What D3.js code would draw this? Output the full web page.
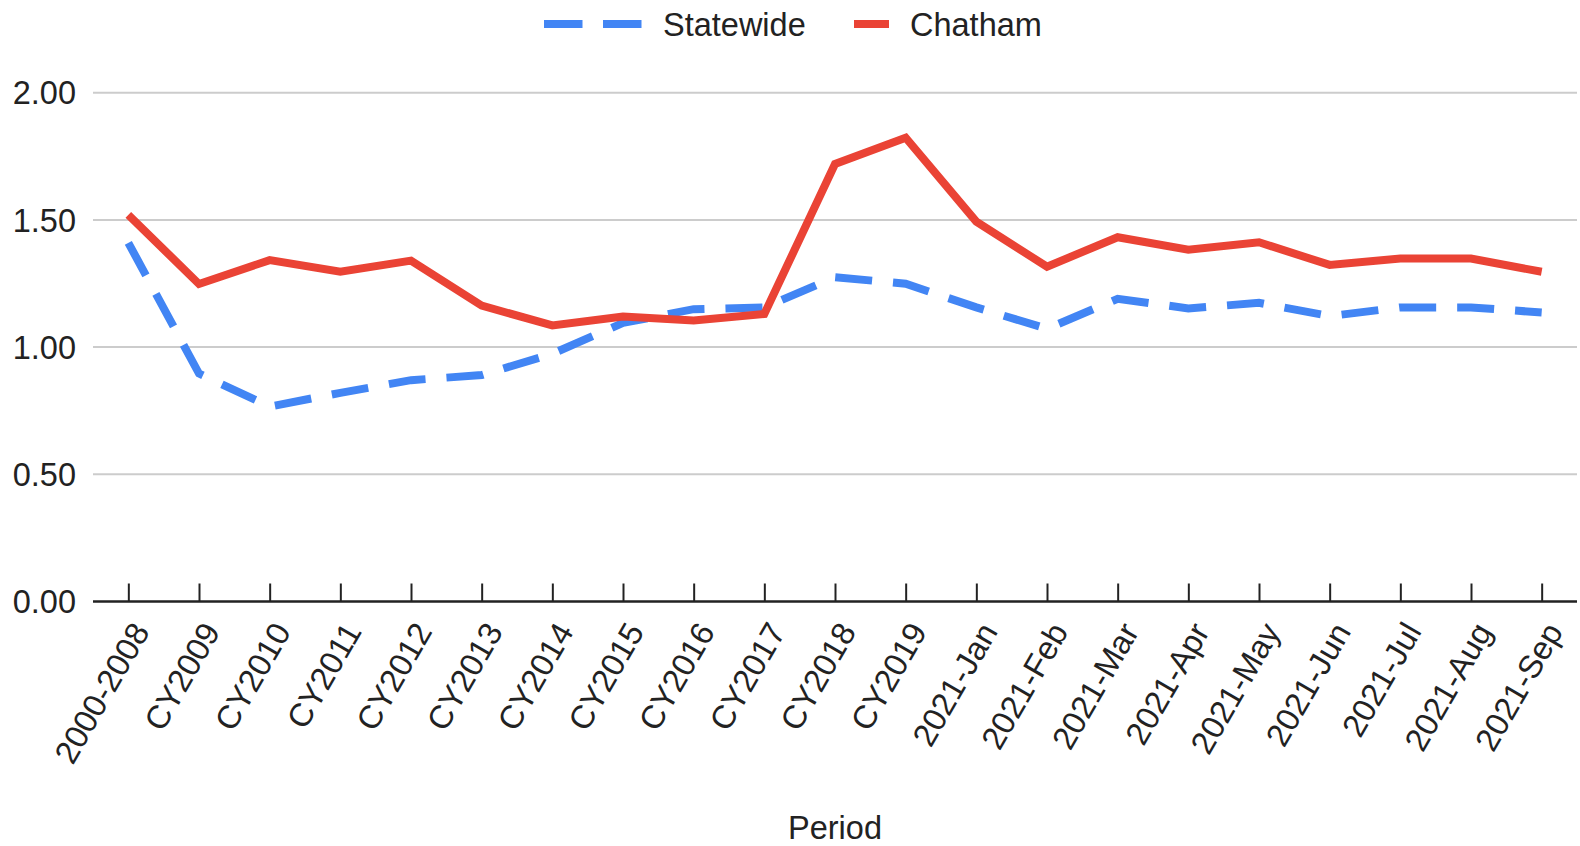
<!DOCTYPE html>
<html>
<head>
<meta charset="utf-8">
<script src="https://cdn.jsdelivr.net/npm/d3@7"></script>
<style>
  html, body { margin: 0; padding: 0; background: #fff; }
  svg { display: block; }
  text { font-family: "Liberation Sans", Arial, sans-serif; fill: #222; }
</style>
</head>
<body>
<svg id="chart" width="1580" height="846"></svg>
<script>
const categories = ["2000-2008","CY2009","CY2010","CY2011","CY2012","CY2013","CY2014","CY2015","CY2016","CY2017","CY2018","CY2019","2021-Jan","2021-Feb","2021-Mar","2021-Apr","2021-May","2021-Jun","2021-Jul","2021-Aug","2021-Sep"];
const statewide = [1.41,0.896,0.766,0.82,0.87,0.89,0.974,1.095,1.149,1.156,1.275,1.249,1.156,1.072,1.19,1.152,1.174,1.122,1.156,1.156,1.136];
const chatham = [1.52,1.248,1.342,1.296,1.34,1.163,1.085,1.12,1.105,1.13,1.72,1.823,1.493,1.316,1.432,1.383,1.412,1.323,1.348,1.348,1.296];
const yTicks = [0, 0.5, 1, 1.5, 2];
const seriesNames = ["Statewide", "Chatham"];
const colors = {"Statewide": "#4285F4", "Chatham": "#EA4335"};

(function () {
const svg = d3.select("#chart");
const mLeft = 93, mRight = 1577, mTop = 92.7, mBottom = 601.5;
const x = d3.scalePoint().domain(categories).range([mLeft, mRight]).padding(0.5);
const y = d3.scaleLinear().domain([0, 2]).range([mBottom, mTop]);
const fs = 32.5;

// gridlines
svg.append("g").selectAll("line").data(yTicks.filter(d => d > 0)).join("line")
  .attr("x1", mLeft).attr("x2", mRight)
  .attr("y1", d => y(d)).attr("y2", d => y(d))
  .attr("stroke", "#cccccc").attr("stroke-width", 2);

// y labels
svg.append("g").selectAll("text").data(yTicks).join("text")
  .attr("x", 76).attr("y", d => y(d)).attr("dy", "0.36em")
  .attr("text-anchor", "end").attr("font-size", fs)
  .text(d => d3.format(".2f")(d));

// x axis
const xAxis = d3.axisBottom(x).tickSize(-18).tickFormat("");
const gx = svg.append("g").attr("transform", `translate(0,${mBottom})`).call(xAxis);
gx.select(".domain").remove();
gx.selectAll(".tick line").attr("stroke", "#222").attr("stroke-width", 2);
svg.append("line").attr("x1", mLeft).attr("x2", mRight).attr("y1", mBottom).attr("y2", mBottom)
  .attr("stroke", "#222").attr("stroke-width", 2.5);

// x labels
svg.append("g").selectAll("text").data(categories).join("text")
  .attr("transform", d => `translate(${x(d) + 12},${mBottom + 24}) rotate(-60)`)
  .attr("text-anchor", "end").attr("dy", "0.36em").attr("font-size", fs)
  .text(d => d);

// axis title
svg.append("text").attr("x", (mLeft + mRight) / 2).attr("y", 839)
  .attr("text-anchor", "middle").attr("font-size", fs).text("Period");

// lines
const line = d3.line().x((d, i) => x(categories[i])).y(d => y(d));
svg.append("path").datum(statewide).attr("d", line)
  .attr("fill", "none").attr("stroke", colors.Statewide).attr("stroke-width", 8)
  .attr("stroke-dasharray", "37,21");
svg.append("path").datum(chatham).attr("d", line)
  .attr("fill", "none").attr("stroke", colors.Chatham).attr("stroke-width", 8);

// legend
const lg = svg.append("g");
lg.append("line").attr("x1", 544).attr("x2", 642).attr("y1", 24).attr("y2", 24)
  .attr("stroke", colors.Statewide).attr("stroke-width", 8).attr("stroke-dasharray", "38.5,20.5");
lg.append("text").attr("x", 663).attr("y", 24).attr("dy", "0.36em").attr("font-size", fs).text(seriesNames[0]);
lg.append("line").attr("x1", 854).attr("x2", 889).attr("y1", 24).attr("y2", 24)
  .attr("stroke", colors.Chatham).attr("stroke-width", 8);
lg.append("text").attr("x", 910).attr("y", 24).attr("dy", "0.36em").attr("font-size", fs).text(seriesNames[1]);
})();
</script>
</body>
</html>
